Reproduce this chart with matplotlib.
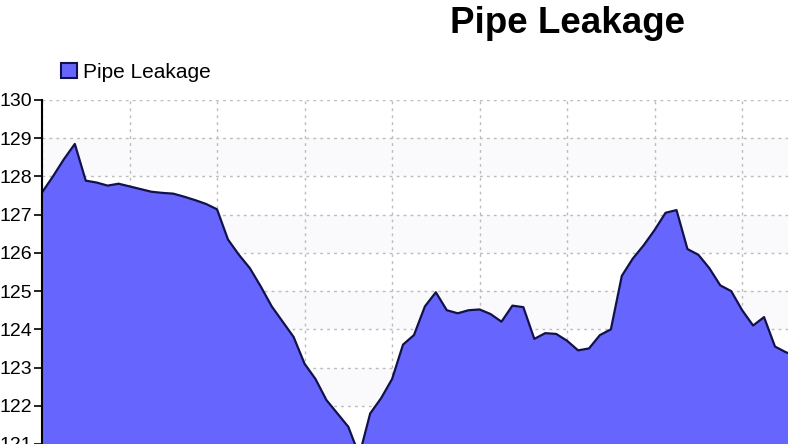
import matplotlib.pyplot as plt
from matplotlib.patches import Patch

# readings, one per sample
leakage = [127.58, 128.0, 128.45, 128.85, 127.89, 127.84, 127.76, 127.81,
           127.74, 127.67, 127.6, 127.57, 127.55, 127.47, 127.38, 127.28,
           127.14, 126.35, 125.95, 125.6, 125.12, 124.6, 124.2, 123.8,
           123.1, 122.7, 122.15, 121.8, 121.45, 120.7, 121.8, 122.2,
           122.7, 123.6, 123.85, 124.6, 124.97, 124.5, 124.42, 124.5,
           124.52, 124.4, 124.2, 124.62, 124.58, 123.75, 123.9, 123.88,
           123.7, 123.45, 123.5, 123.85, 124.0, 125.4, 125.85, 126.2,
           126.6, 127.05, 127.12, 126.1, 125.95, 125.6, 125.15, 125.0,
           124.5, 124.1, 124.32, 123.55, 123.4, 123.3]
samples = list(range(len(leakage)))
y_ticks = [121, 122, 123, 124, 125, 126, 127, 128, 129, 130]
title = "Pipe Leakage"

fill_color = "#6666ff"
line_color = "#12124a"

plt.rcParams['font.family'] = ['Liberation Sans', 'DejaVu Sans']

fig = plt.figure(figsize=(7.88, 4.44), dpi=100)
ax = fig.add_axes([42 / 788, 0, 746 / 788, 344 / 444])

# faint alternating bands
for lo in [122, 124, 126, 128]:
    ax.axhspan(lo, lo + 1, color="#fafafc", zorder=0, lw=0)

ax.fill_between(samples, leakage, 110, color=fill_color, zorder=2, lw=0)
ax.plot(samples, leakage, color=line_color, lw=1.6, zorder=3)

ax.set_xlim(0, 746 / 10.94)
ax.set_ylim(121, 130)
ax.set_yticks(y_ticks)
ax.set_xticks(range(0, 70, 8))
ax.set_xticklabels([])
ax.tick_params(axis='x', length=0)
ax.tick_params(axis='y', length=6, width=1.2, labelsize=14, pad=1)
ax.grid(True, linestyle=(0, (2, 3)), color="#bcbcbc", linewidth=1, zorder=1)
ax.set_axisbelow(True)
for side in ['top', 'right', 'bottom']:
    ax.spines[side].set_visible(False)
ax.spines['left'].set_linewidth(1.5)
ax.spines['left'].set_zorder(4)

handle = Patch(facecolor=fill_color, edgecolor=line_color, linewidth=1.5, label=title)
fig.legend(handles=[handle], loc='center left', bbox_to_anchor=(51 / 788, 1 - 72 / 444),
           frameon=False, fontsize=15, handlelength=0.75, handleheight=0.75,
           handletextpad=0.3, borderpad=0)

fig.text(567 / 788, 1 - 33 / 444, title, ha='center', va='baseline',
         fontsize=26.5, fontweight='bold')

fig.savefig("out.png", dpi=100)
